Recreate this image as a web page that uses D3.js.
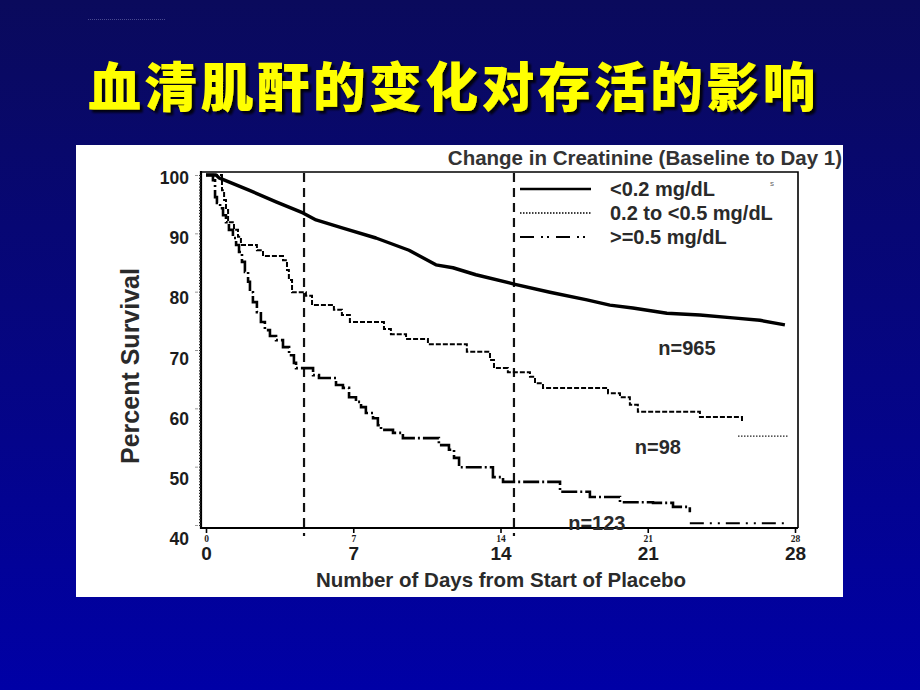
<!DOCTYPE html>
<html><head><meta charset="utf-8">
<script src="https://cdn.jsdelivr.net/npm/d3@7"></script>
<style>html,body{margin:0;padding:0;background:#00008a;} svg{display:block}</style>
</head><body><svg id="c" width="920" height="690"></svg>
<script>
// ---------- data ----------
const slideTitle = "血清肌酐的变化对存活的影响";
const chartTitle = "Change in Creatinine (Baseline to Day 1)";
const xTickVals = [0, 7, 14, 21, 28];
const yTickVals = [40, 50, 60, 70, 80, 90, 100];
const refLineDays = [4.66, 14.64];
const seriesNames = ["<0.2 mg/dL", "0.2 to <0.5 mg/dL", ">=0.5 mg/dL"];
const nLabels = ["n=965", "n=98", "n=123"];

// <0.2 mg/dL
const lowDays = [0, 0.48, 0.62, 2.04, 3.33, 4.61, 5.23, 6.51, 8.08, 9.65, 10.93, 11.74, 12.83, 14.64, 16.35, 18.11, 19.20, 20.29, 21.91, 23.48, 25.05, 26.33, 27.52];
const lowVals = [100, 100, 99.5, 97.4, 95.4, 93.5, 92.3, 90.9, 89.2, 87.1, 84.6, 84.1, 82.9, 81.3, 79.9, 78.6, 77.7, 77.2, 76.3, 76.0, 75.5, 75.1, 74.3];

// 0.2 to <0.5 mg/dL (step curve)
const midDays = [0, 0.76, 0.86, 0.95, 1.05, 1.33, 1.52, 1.66, 2.42, 2.71, 3.66, 3.85, 3.94, 4.09, 4.75, 5.04, 6.08, 6.46, 6.84, 8.46, 8.79, 9.51, 10.55, 12.40, 13.50, 13.69, 14.35, 15.40, 15.64, 16.02, 19.11, 19.68, 20.15, 20.53, 23.48, 25.48];
const midVals = [100, 97.4, 95.7, 94.0, 91.9, 90.6, 89.4, 88.0, 87.1, 86.1, 85.4, 83.7, 82.0, 79.9, 79.3, 77.7, 76.9, 76.0, 74.8, 73.6, 72.7, 71.9, 71.0, 69.7, 68.3, 66.9, 66.2, 65.4, 64.3, 63.5, 62.6, 61.9, 60.6, 59.4, 58.5, 57.7];
const midTailDays = [25.29, 27.66];
const midTailVals = [55.25, 55.25];

// >=0.5 mg/dL (step curve)
const highDays = [0, 0.33, 0.43, 0.52, 0.67, 0.81, 0.95, 1.09, 1.28, 1.43, 1.57, 1.71, 1.85, 2.00, 2.09, 2.23, 2.42, 2.61, 2.80, 3.04, 3.33, 3.66, 3.95, 4.18, 4.28, 5.09, 5.37, 6.18, 6.51, 6.80, 7.13, 7.37, 7.60, 7.94, 8.17, 8.32, 8.89, 9.36, 11.07, 11.55, 11.79, 12.03, 13.64, 14.12, 16.83, 18.25, 19.68, 21.25, 22.20, 23.00];
const highVals = [100, 99.1, 96.2, 95.2, 94.3, 93.1, 91.9, 90.6, 89.2, 88.0, 86.8, 85.1, 83.4, 81.7, 79.9, 78.2, 76.5, 74.8, 73.4, 72.4, 71.7, 70.5, 69.1, 67.8, 66.9, 65.7, 65.2, 64.0, 63.5, 61.9, 61.1, 60.2, 59.2, 58.3, 57.1, 56.3, 55.8, 54.9, 53.7, 52.9, 51.5, 49.9, 48.2, 47.4, 45.7, 44.8, 43.9, 43.8, 43.1, 42.2];
const highTailDays = [23.0, 27.66];
const highTailVals = [40.3, 40.3];

// ---------- drawing ----------
const svg = d3.select("#c");
const W = 920, H = 690;
const defs = svg.append("defs");
const grad = defs.append("linearGradient").attr("id", "bg").attr("x1", 0).attr("y1", 0).attr("x2", 0).attr("y2", 1);
grad.append("stop").attr("offset", "0%").attr("stop-color", "#0a0a5c");
grad.append("stop").attr("offset", "55%").attr("stop-color", "#050584");
grad.append("stop").attr("offset", "100%").attr("stop-color", "#0000a6");
const shadow = defs.append("filter").attr("id", "sh").attr("x", "-5%").attr("y", "-20%").attr("width", "115%").attr("height", "150%");
shadow.append("feDropShadow").attr("dx", 3).attr("dy", 3).attr("stdDeviation", 0.8)
  .attr("flood-color", "#000").attr("flood-opacity", 0.85);

svg.append("rect").attr("width", W).attr("height", H).attr("fill", "url(#bg)");
svg.append("line").attr("x1", 88).attr("x2", 165).attr("y1", 19.5).attr("y2", 19.5)
  .attr("stroke", "#4a4a90").attr("stroke-width", 1).attr("stroke-dasharray", "1,1");

// slide title with shadow
svg.append("text").attr("x", 88).attr("y", 107).attr("fill", "#ffff00")
  .attr("font-family", "'Noto Sans CJK SC'").attr("font-weight", 900)
  .attr("font-size", 53).attr("letter-spacing", 3.2).attr("filter", "url(#sh)")
  .text(slideTitle);

// white panel
svg.append("rect").attr("x", 76).attr("y", 145).attr("width", 767).attr("height", 452).attr("fill", "#ffffff");

const x = d3.scaleLinear().domain([0, 28]).range([206, 795]);
const y = d3.scaleLinear().domain([40, 100]).range([525, 175]);
const yLab = d3.scaleLinear().domain([40, 100]).range([539, 178]);

const font = "'Liberation Sans', Arial, sans-serif";
const ink = "#1c1c1c";

// frame
const frame = svg.append("g").attr("stroke", "#000").attr("fill", "none");
frame.append("path").attr("d", "M201,172H798V528").attr("stroke-width", 1.6);
frame.append("path").attr("d", "M201,171V528H798").attr("stroke-width", 2.2);

// y minor ticks
svg.append("g").attr("transform", "translate(201,0)")
  .call(d3.axisLeft(y).tickValues(d3.range(40, 100.01, 0.5)).tickSize(2).tickFormat(""))
  .call(g => g.select(".domain").remove())
  .call(g => g.selectAll("line").attr("stroke", "#222").attr("stroke-width", 1.2));
// y major ticks (light)
svg.append("g").attr("transform", "translate(198,0)")
  .call(d3.axisLeft(y).tickValues(yTickVals).tickSize(3).tickFormat(""))
  .call(g => g.select(".domain").remove())
  .call(g => g.selectAll("line").attr("stroke", "#999").attr("stroke-width", 1));
// y labels on their own scale (as pasted)
svg.append("g").attr("transform", "translate(189,0)")
  .call(d3.axisLeft(yLab).tickValues(yTickVals).tickSize(0).tickPadding(0))
  .call(g => g.select(".domain").remove())
  .call(g => g.selectAll("text").attr("font-family", font).attr("font-weight", "bold")
    .attr("font-size", 17.5).attr("fill", ink));

// x axis: ticks + small labels
svg.append("g").attr("transform", "translate(0,528)")
  .call(d3.axisBottom(x).tickValues(xTickVals).tickSize(5).tickPadding(2))
  .call(g => g.select(".domain").remove())
  .call(g => g.selectAll("line").attr("stroke", "#000").attr("stroke-width", 1.6))
  .call(g => g.selectAll("text").attr("font-family", "'Liberation Serif', serif").attr("font-weight", "bold")
    .attr("font-size", 9.5).attr("fill", ink));
// x axis big labels
svg.append("g").attr("transform", "translate(0,546)")
  .call(d3.axisBottom(x).tickValues(xTickVals).tickSize(0).tickPadding(0))
  .call(g => g.select(".domain").remove())
  .call(g => g.selectAll("text").attr("font-family", font).attr("font-weight", "bold")
    .attr("font-size", 19).attr("fill", ink));

// axis titles
svg.append("text").attr("x", 501).attr("y", 587).attr("text-anchor", "middle")
  .attr("font-family", font).attr("font-weight", "bold").attr("font-size", 20.5).attr("fill", "#2a2a2a")
  .text("Number of Days from Start of Placebo");
svg.append("text").attr("transform", "translate(139,366) rotate(-90)").attr("text-anchor", "middle")
  .attr("font-family", font).attr("font-weight", "bold").attr("font-size", 25).attr("fill", "#2a2a2a")
  .text("Percent Survival");

// chart title
svg.append("text").attr("x", 842).attr("y", 165).attr("text-anchor", "end")
  .attr("font-family", font).attr("font-weight", "bold").attr("font-size", 20.5).attr("fill", "#333")
  .text(chartTitle);

// reference dashed lines
svg.append("g").selectAll("line").data(refLineDays).join("line")
  .attr("x1", d => x(d)).attr("x2", d => x(d)).attr("y1", 173).attr("y2", 536)
  .attr("stroke", "#111").attr("stroke-width", 2.2).attr("stroke-dasharray", "9,6");

// curves
const pts = (ds, vs) => ds.map((d, i) => [d, vs[i]]);
const lineLin = d3.line().x(d => x(d[0])).y(d => y(d[1])).curve(d3.curveLinear);
const lineStep = d3.line().x(d => x(d[0])).y(d => y(d[1])).curve(d3.curveStepAfter);

svg.append("path").attr("d", lineStep(pts(highDays, highVals))).attr("fill", "none")
  .attr("stroke", "#000").attr("stroke-width", 2.6).attr("stroke-dasharray", "16,3,2,3");
svg.append("path").attr("d", lineLin(pts(highTailDays, highTailVals))).attr("fill", "none")
  .attr("stroke", "#000").attr("stroke-width", 2).attr("stroke-dasharray", "14,6,2,6,2,6");

svg.append("path").attr("d", lineStep(pts(midDays, midVals))).attr("fill", "none")
  .attr("stroke", "#000").attr("stroke-width", 2).attr("stroke-dasharray", "5,2");
svg.append("path").attr("d", lineLin(pts(midTailDays, midTailVals))).attr("fill", "none")
  .attr("stroke", "#222").attr("stroke-width", 1.3).attr("stroke-dasharray", "1.5,1.5");

svg.append("path").attr("d", lineLin(pts(lowDays, lowVals))).attr("fill", "none")
  .attr("stroke", "#000").attr("stroke-width", 3.4).attr("stroke-linejoin", "round");

// n labels
const nPos = [[22.86, 70.3], [21.48, 53.4], [18.58, 40.4]];
svg.append("g").selectAll("text").data(nLabels).join("text")
  .attr("x", (d, i) => x(nPos[i][0])).attr("y", (d, i) => y(nPos[i][1]))
  .attr("text-anchor", "middle").attr("dominant-baseline", "central")
  .attr("font-family", font).attr("font-weight", "bold").attr("font-size", 20).attr("fill", "#2a2a2a")
  .text(d => d);

// legend
const legY = [189, 213, 237];
const legStyles = [
  {w: 2.6, dash: null},
  {w: 1.4, dash: "1.5,1.5"},
  {w: 2, dash: "14,7,2,4,2,7"}
];
const leg = svg.append("g");
seriesNames.forEach((s, i) => {
  leg.append("line").attr("x1", 520).attr("x2", 591).attr("y1", legY[i]).attr("y2", legY[i])
    .attr("stroke", "#000").attr("stroke-width", legStyles[i].w)
    .attr("stroke-dasharray", legStyles[i].dash);
  leg.append("text").attr("x", 610).attr("y", legY[i]).attr("dominant-baseline", "central")
    .attr("font-family", font).attr("font-weight", "bold").attr("font-size", 20).attr("fill", "#2a2a2a")
    .text(s);
});
svg.append("text").attr("x", 770).attr("y", 186).attr("font-family", font).attr("font-size", 8)
  .attr("fill", "#666").text("s");
</script>
</body></html>
